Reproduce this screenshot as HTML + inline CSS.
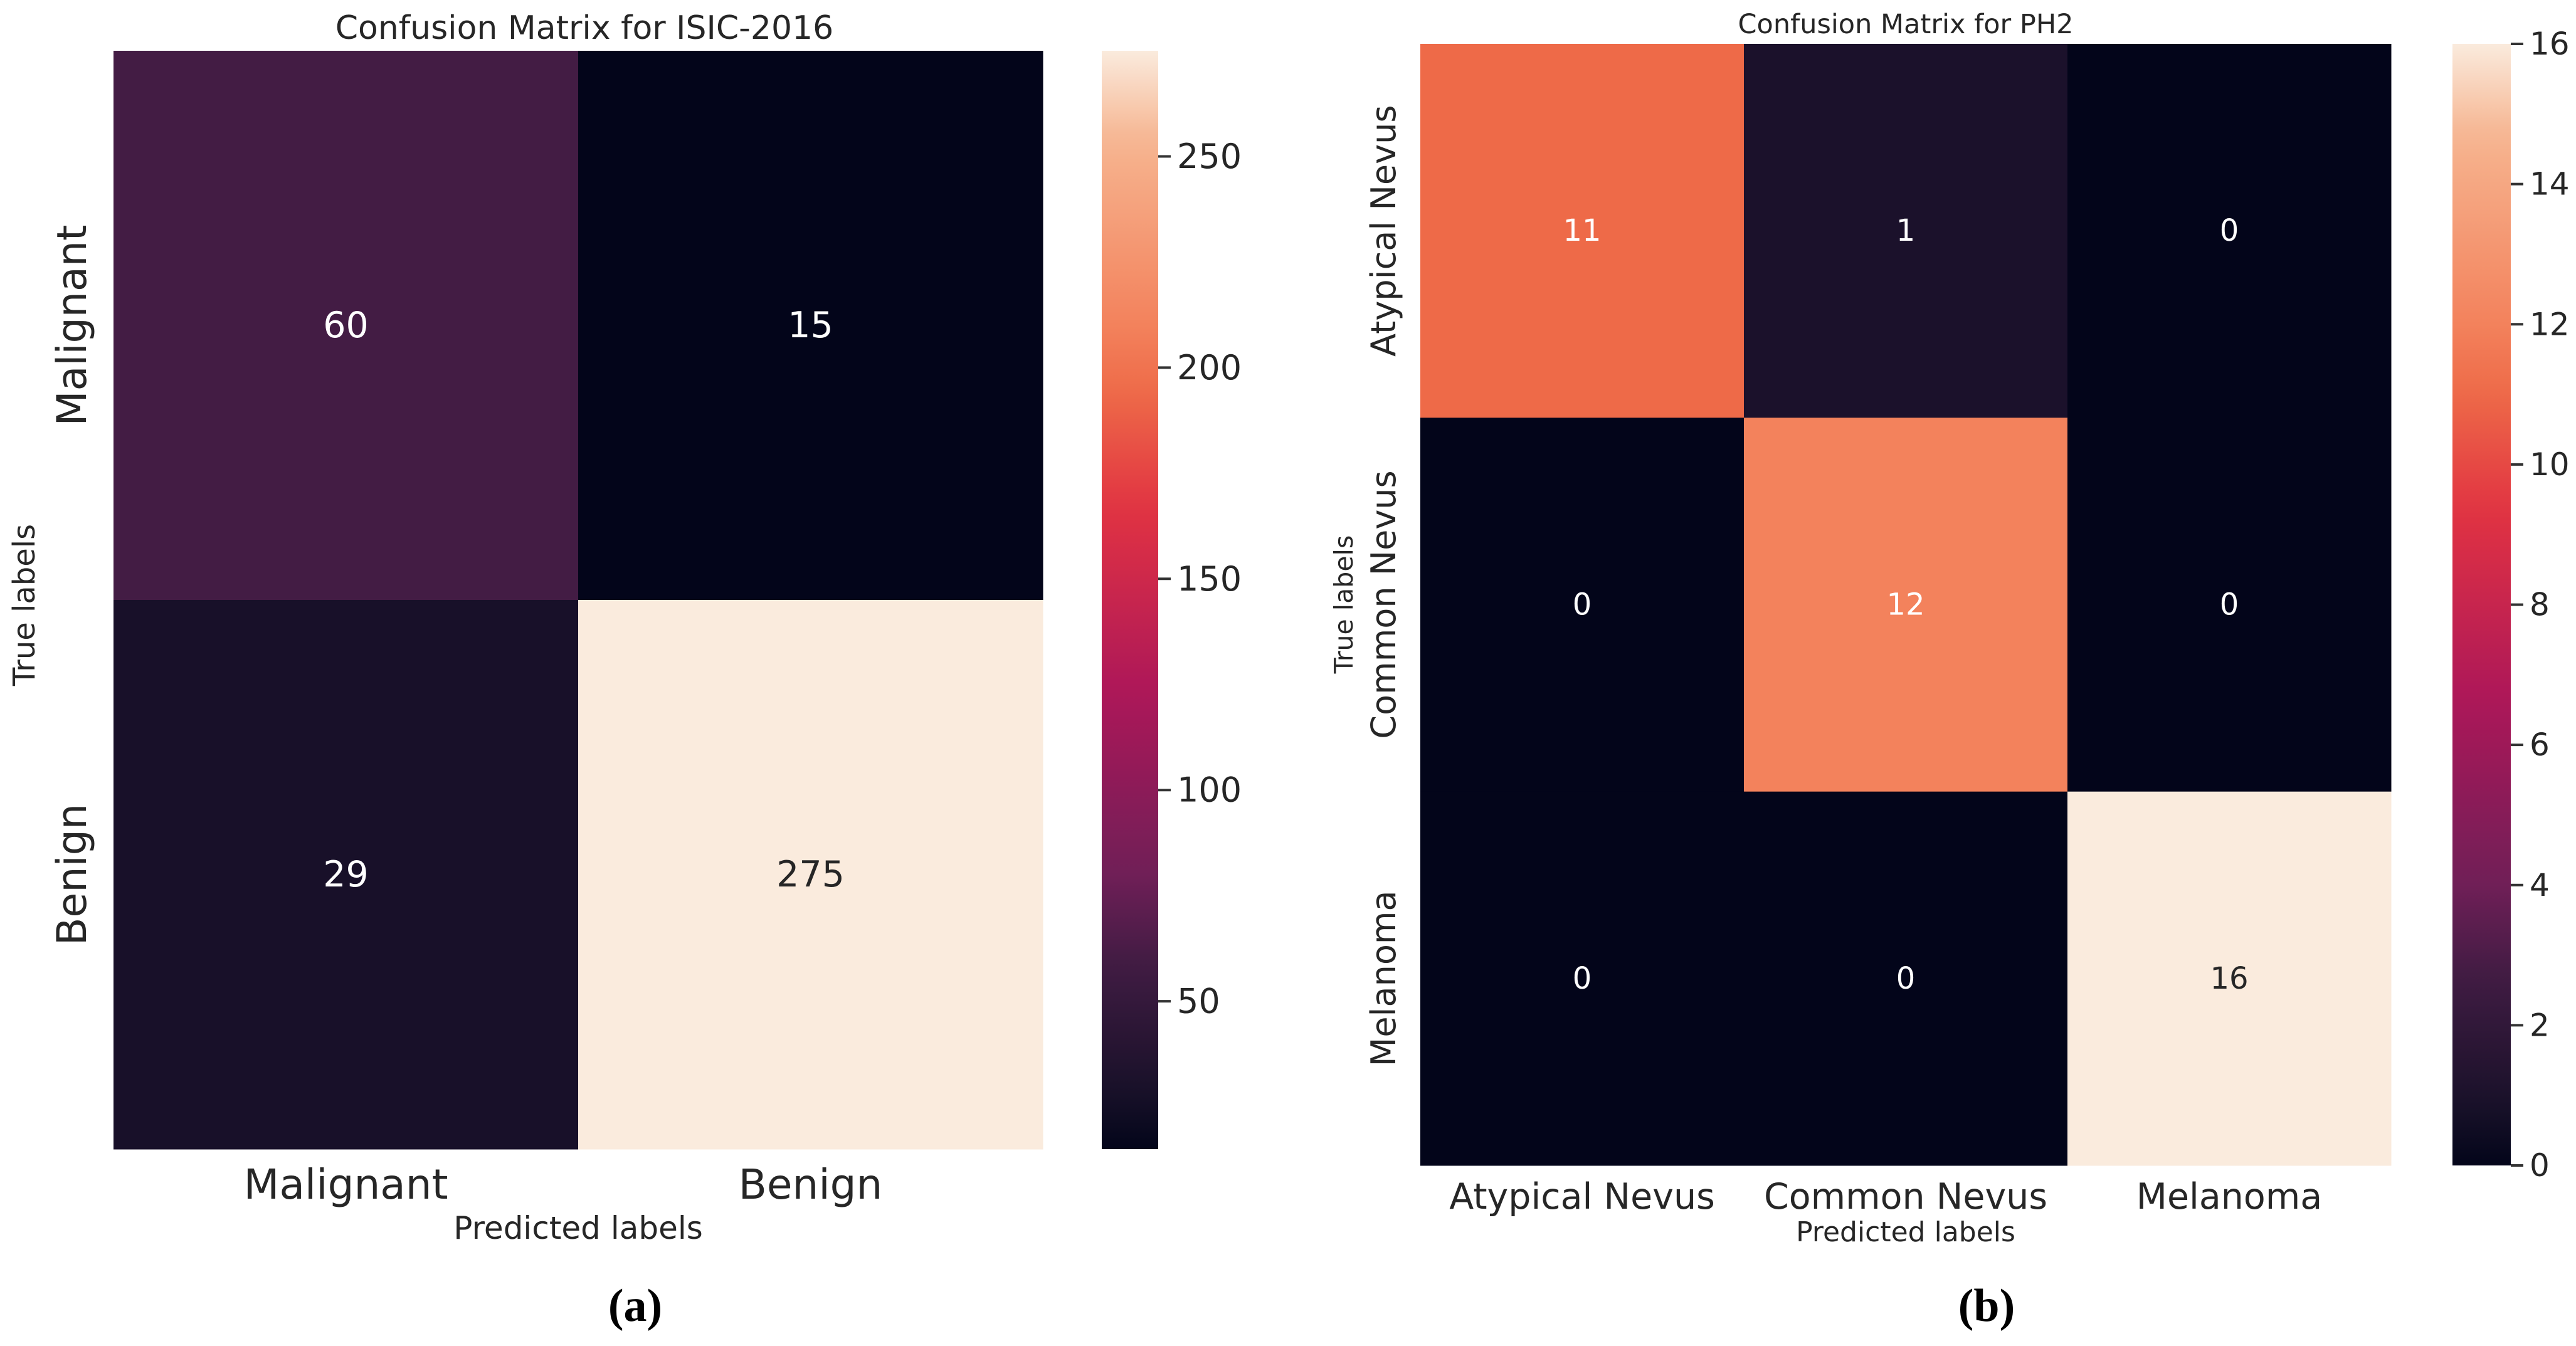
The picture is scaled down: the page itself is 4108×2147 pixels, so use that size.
<!DOCTYPE html>
<html><head><meta charset="utf-8"><style>
html,body{margin:0;padding:0;background:#fff;}
svg{display:block;}
text{font-family:"DejaVu Sans","Liberation Sans",sans-serif;fill:#262626;}
</style></head><body>
<svg id="fig" width="4108" height="2147" viewBox="0 0 4108 2147" xmlns="http://www.w3.org/2000/svg"></svg>
<script>
// ISIC-2016 data
const isicLabels = ["Malignant","Benign"];
const isicValues = [[60,15],[29,275]];
const isicTicks = [50,100,150,200,250];
// PH2 data
const ph2Labels = ["Atypical Nevus","Common Nevus","Melanoma"];
const ph2Values = [[11,1,0],[0,12,0],[0,0,16]];
const ph2Ticks = [0,2,4,6,8,10,12,14,16];

const NS="http://www.w3.org/2000/svg";
const svg=document.getElementById('fig');
const stops=[[0,[3,5,26]],[0.05,[23,16,40]],[0.17,[65,28,67]],[0.25,[112,31,87]],[0.4167,[173,23,89]],[0.5833,[225,51,66]],[0.6875,[238,106,72]],[0.75,[243,130,92]],[0.9167,[246,180,143]],[1,[250,235,221]]];
function rocket(t){t=Math.max(0,Math.min(1,t));for(let i=1;i<stops.length;i++){if(t<=stops[i][0]){const a=stops[i-1],b=stops[i];const f=(t-a[0])/(b[0]-a[0]);const c=a[1].map((v,k)=>Math.round(v+(b[1][k]-v)*f));return `rgb(${c[0]},${c[1]},${c[2]})`;}}return 'rgb(250,235,221)';}
function el(tag,attrs,parent){const e=document.createElementNS(NS,tag);for(const k in attrs)e.setAttribute(k,attrs[k]);(parent||svg).appendChild(e);return e;}
function txt(s,attrs,parent){const e=el('text',attrs,parent);e.textContent=s;return e;}

let gid=0;
function heatmap(cfg){
  const {labels,values,ticks,vmin,vmax,x0,x1,y0,y1,cbx0,cbx1,prefix}=cfg;
  const n=labels.length,cw=(x1-x0)/n,ch=(y1-y0)/n;
  const g=el('g',{});
  
  
  const norm=v=>(v-vmin)/(vmax-vmin);
  for(let r=0;r<n;r++)for(let c=0;c<n;c++){
    const v=values[r][c];
    const rect=el('rect',{x:x0+c*cw,y:y0+r*ch,width:cw+0.5,height:ch+0.5,fill:rocket(norm(v))},g);
    
    
    const t=txt(String(v),{x:x0+(c+0.5)*cw,y:y0+(r+0.5)*ch,'text-anchor':'middle','dominant-baseline':'central','font-size':cfg.annSize},g);
    t.style.fill=norm(v)>0.8?'#262626':'#ffffff';
    
    
  }
  for(let i=0;i<n;i++){
    const t=txt(labels[i],{x:x0+(i+0.5)*cw,y:cfg.xtickY,'text-anchor':'middle','font-size':cfg.tickSize});
    
    
    const yc=y0+(i+0.5)*ch;
    const t2=txt(labels[i],{x:cfg.ytickX,y:yc,'text-anchor':'middle',transform:`rotate(-90 ${cfg.ytickX} ${yc})`,'font-size':cfg.ytickSize});
    
    
  }
  const id='grad'+(gid++);
  const defs=el('defs',{});
  const lg=el('linearGradient',{id:id,x1:0,y1:1,x2:0,y2:0},defs);
  for(let i=0;i<=40;i++){el('stop',{offset:i/40,'stop-color':rocket(i/40)},lg);}
  const cb=el('rect',{x:cbx0,y:y0,width:cbx1-cbx0,height:y1-y0,fill:`url(#${id})`});
  
  
  const ys=v=>y1-(v-vmin)/(vmax-vmin)*(y1-y0);
  ticks.forEach(v=>{
    const y=ys(v);
    const l=el('line',{x1:cbx1,x2:cbx1+20,y1:y,y2:y,stroke:'#333','stroke-width':4});
    
    
    const t=txt(String(v),{x:cbx1+30,y:y,'dominant-baseline':'central','font-size':cfg.cbSize});
    
    
  });
}

heatmap({labels:isicLabels,values:isicValues,ticks:isicTicks,vmin:15,vmax:275,x0:181,x1:1663,y0:81,y1:1833,cbx0:1757,cbx1:1847,prefix:'isic',annSize:57,tickSize:66,ytickSize:65,cbSize:54,xtickY:1912,ytickX:137});
heatmap({labels:ph2Labels,values:ph2Values,ticks:ph2Ticks,vmin:0,vmax:16,x0:2265,x1:3813,y0:70,y1:1859,cbx0:3911,cbx1:4004,prefix:'ph2',annSize:48,tickSize:57,ytickSize:54,cbSize:50,xtickY:1928,ytickX:2225});

function label(s,name,attrs){const t=txt(s,attrs);return t;}
label('Confusion Matrix for ISIC-2016','isic-title',{x:932,y:62,'text-anchor':'middle','font-size':52});
label('Predicted labels','isic-x-axis-title',{x:922,y:1976,'text-anchor':'middle','font-size':50});
label('True labels','isic-y-axis-title',{x:55,y:965,'text-anchor':'middle','font-size':48,transform:'rotate(-90 55 965)'});
label('Confusion Matrix for PH2','ph2-title',{x:3039,y:53,'text-anchor':'middle','font-size':43});
label('Predicted labels','ph2-x-axis-title',{x:3039,y:1980,'text-anchor':'middle','font-size':44});
label('True labels','ph2-y-axis-title',{x:2157,y:964,'text-anchor':'middle','font-size':41,transform:'rotate(-90 2157 964)'});
const a=label('(a)','caption-a',{x:1013,y:2107,'text-anchor':'middle','font-size':74,'font-weight':'bold'});
a.style.fontFamily='"Liberation Serif",serif';a.style.fill='#000';
const b=label('(b)','caption-b',{x:3168,y:2107,'text-anchor':'middle','font-size':74,'font-weight':'bold'});
b.style.fontFamily='"Liberation Serif",serif';b.style.fill='#000';
</script>
</body></html>
